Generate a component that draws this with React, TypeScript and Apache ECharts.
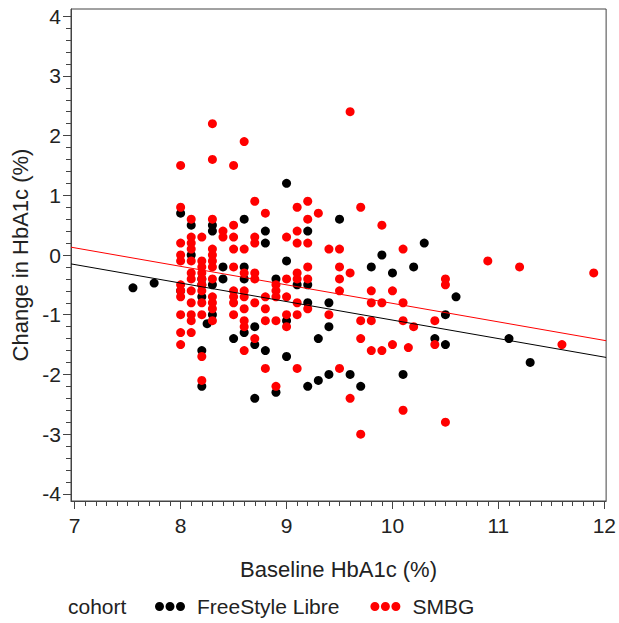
import React, { useEffect, useRef } from "react";
import * as echarts from "echarts";

// FreeStyle Libre cohort: [baseline HbA1c, change in HbA1c]
const freestyleLibre: number[][] = [
  [7.55, -0.55], [7.75, -0.47], [8.0, 0.7], [8.0, -0.6], [8.1, 0.5], [8.1, 0.0],
  [8.2, -0.4], [8.2, -0.5], [8.2, -0.7], [8.2, -1.6], [8.2, -2.2], [8.3, 0.5],
  [8.3, 0.4], [8.3, -0.5], [8.3, -1.0], [8.25, -1.15], [8.4, -0.2], [8.4, -0.4],
  [8.5, -1.4], [8.6, 0.6], [8.6, -0.2], [8.6, -0.4], [8.6, -1.3], [8.7, -1.2],
  [8.7, -1.5], [8.7, -2.4], [8.8, 0.4], [8.8, 0.2], [8.8, -1.6], [8.9, -0.4],
  [8.9, -2.3], [9.0, 1.2], [9.0, -0.1], [9.0, -1.1], [9.0, -1.7], [9.1, -0.5],
  [9.2, 0.4], [9.2, -0.5], [9.2, -0.8], [9.2, -2.2], [9.3, -1.4], [9.3, -2.1],
  [9.4, -0.8], [9.4, -1.2], [9.4, -2.0], [9.5, 0.6], [9.6, -2.0], [9.7, -2.2],
  [9.8, -0.2], [9.9, 0.0], [10.0, -0.3], [10.1, -2.0], [10.2, -0.2], [10.3, 0.2],
  [10.4, -1.4], [10.5, -1.0], [10.5, -1.5], [10.6, -0.7], [11.1, -1.4], [11.3, -1.8],
];

// SMBG cohort: [baseline HbA1c, change in HbA1c]
const smbg: number[][] = [
  [8.0, 1.5], [8.0, 0.8], [8.0, 0.2], [8.0, 0.0], [8.0, -0.1], [8.0, -0.5], [8.0, -0.6],
  [8.0, -0.7], [8.0, -1.0], [8.0, -1.3], [8.0, -1.5],
  [8.1, 0.6], [8.1, 0.3], [8.1, 0.2], [8.1, 0.1], [8.1, -0.1], [8.1, -0.3], [8.1, -0.4],
  [8.1, -0.6], [8.1, -0.8], [8.1, -1.0], [8.1, -1.1], [8.1, -1.3],
  [8.2, 0.3], [8.2, -0.1], [8.2, -0.2], [8.2, -0.3], [8.2, -0.4], [8.2, -0.5], [8.2, -0.6],
  [8.2, -0.8], [8.2, -1.0], [8.2, -1.7], [8.2, -2.1],
  [8.3, 2.2], [8.3, 1.6], [8.3, 0.6], [8.3, 0.1], [8.3, 0.0], [8.3, -0.1], [8.3, -0.2],
  [8.3, -0.4], [8.3, -0.7], [8.3, -0.8], [8.3, -0.9], [8.3, -1.1],
  [8.4, 0.4], [8.4, 0.3],
  [8.5, 1.5], [8.5, 0.5], [8.5, 0.3], [8.5, 0.1], [8.5, -0.2], [8.5, -0.6], [8.5, -0.7],
  [8.5, -0.8], [8.5, -1.0],
  [8.6, 1.9], [8.6, 0.1], [8.6, -0.3], [8.6, -0.6], [8.6, -0.7], [8.6, -0.9], [8.6, -1.1],
  [8.6, -1.2], [8.6, -1.6],
  [8.7, 0.9], [8.7, 0.3], [8.7, 0.2], [8.7, -0.3], [8.7, -0.4], [8.7, -0.8], [8.7, -1.4],
  [8.8, 0.7], [8.8, -0.7], [8.8, -0.9], [8.8, -1.1], [8.8, -1.9],
  [8.9, -0.5], [8.9, -0.6], [8.9, -0.7], [8.9, -1.1], [8.9, -2.2],
  [9.0, 0.3], [9.0, -0.4], [9.0, -0.7], [9.0, -1.0], [9.0, -1.2],
  [9.1, 0.8], [9.1, 0.4], [9.1, 0.2], [9.1, -0.3], [9.1, -0.4], [9.1, -0.8], [9.1, -1.0],
  [9.1, -1.9],
  [9.2, 0.9], [9.2, 0.6], [9.2, 0.2], [9.2, -0.2], [9.2, -0.4], [9.2, -0.9],
  [9.3, 0.7], [9.4, 0.1], [9.4, -1.0],
  [9.5, 0.1], [9.5, -0.2], [9.5, -0.4], [9.5, -0.6], [9.5, -1.9],
  [9.6, 2.4], [9.6, -0.3], [9.6, -2.4],
  [9.7, 0.8], [9.7, -1.1], [9.7, -1.4], [9.7, -3.0],
  [9.8, -0.6], [9.8, -0.8], [9.8, -1.1], [9.8, -1.6],
  [9.9, 0.5], [9.9, -0.8], [9.9, -1.6],
  [10.0, -0.6], [10.0, -1.5],
  [10.1, 0.1], [10.1, -0.8], [10.1, -1.1], [10.1, -2.6], [10.15, -1.55],
  [10.2, -1.2], [10.4, -1.1], [10.4, -1.5],
  [10.5, -0.4], [10.5, -0.5], [10.5, -2.8],
  [10.9, -0.1], [11.2, -0.2], [11.6, -1.5], [11.9, -0.3],
];

// Fitted regression values at baseline HbA1c = 7 and 12
const fitBaseline = [7, 12];
const freestyleFit = [-0.16, -1.71];
const smbgFit = [0.12, -1.43];

const xMajorTicks = [7, 8, 9, 10, 11, 12];
const yMajorTicks = [-4, -3, -2, -1, 0, 1, 2, 3, 4];

const X_MIN = 6.965;
const X_MAX = 12.017;
const Y_MIN = -4.12;
const Y_MAX = 4.12;

const FONT = "'Liberation Sans', Arial, sans-serif";
const TEXT = "#222";
const AXIS = "#444";

function minorTicks(from: number, to: number, step: number): number[] {
  const out: number[] = [];
  const n = Math.round((to - from) / step);
  for (let i = 0; i <= n; i++) out.push(Math.round((from + i * step) * 100) / 100);
  return out;
}

function fitLine(vals: number[]): number[][] {
  const slope = (vals[1] - vals[0]) / (fitBaseline[1] - fitBaseline[0]);
  return [
    [X_MIN, vals[0] + slope * (X_MIN - fitBaseline[0])],
    [X_MAX, vals[0] + slope * (X_MAX - fitBaseline[0])],
  ];
}

const dotsIcon =
  "path://M0,4.5a4.5,4.5 0 1,0 9,0a4.5,4.5 0 1,0 -9,0z" +
  "M10.5,4.5a4.5,4.5 0 1,0 9,0a4.5,4.5 0 1,0 -9,0z" +
  "M21,4.5a4.5,4.5 0 1,0 9,0a4.5,4.5 0 1,0 -9,0z";

export default function App() {
  const ref = useRef<HTMLDivElement>(null);

  useEffect(() => {
    if (!ref.current) return;
    const chart = echarts.init(ref.current, undefined, { renderer: "svg" });
    const grid = { left: 71, top: 9, right: 10, bottom: 122, show: true, borderColor: AXIS, borderWidth: 1, backgroundColor: "#fff" };

    const majorX = {
      type: "value" as const,
      min: X_MIN,
      max: X_MAX,
      position: "bottom" as const,
      name: "Baseline HbA1c (%)",
      nameLocation: "middle" as const,
      nameGap: 57,
      nameTextStyle: { fontFamily: FONT, fontSize: 22, color: TEXT },
      axisLine: { show: true, onZero: false, lineStyle: { color: AXIS, width: 1 } },
      axisTick: { show: true, length: 8, customValues: xMajorTicks, lineStyle: { color: AXIS } },
      axisLabel: {
        show: true,
        customValues: xMajorTicks,
        margin: 14,
        fontFamily: FONT,
        fontSize: 21,
        color: TEXT,
        formatter: (v: number) => String(v),
      },
      splitLine: { show: false },
    };
    const minorX = {
      type: "value" as const,
      min: X_MIN,
      max: X_MAX,
      position: "bottom" as const,
      axisLine: { show: false, onZero: false },
      axisTick: { show: true, length: 5, customValues: minorTicks(7, 12, 0.1), lineStyle: { color: AXIS } },
      axisLabel: { show: false },
      splitLine: { show: false },
    };
    const majorY = {
      type: "value" as const,
      min: Y_MIN,
      max: Y_MAX,
      position: "left" as const,
      name: "Change in HbA1c (%)",
      nameLocation: "middle" as const,
      nameRotate: 90,
      nameGap: 40,
      nameTextStyle: { fontFamily: FONT, fontSize: 22, color: TEXT },
      axisLine: { show: true, onZero: false, lineStyle: { color: AXIS, width: 1 } },
      axisTick: { show: true, length: 8, customValues: yMajorTicks, lineStyle: { color: AXIS } },
      axisLabel: {
        show: true,
        customValues: yMajorTicks,
        margin: 10,
        fontFamily: FONT,
        fontSize: 21,
        color: TEXT,
        formatter: (v: number) => String(v),
      },
      splitLine: { show: false },
    };
    const minorY = {
      type: "value" as const,
      min: Y_MIN,
      max: Y_MAX,
      position: "left" as const,
      axisLine: { show: false, onZero: false },
      axisTick: { show: true, length: 5, customValues: minorTicks(-4, 4, 0.2), lineStyle: { color: AXIS } },
      axisLabel: { show: false },
      splitLine: { show: false },
    };

    chart.setOption({
      animation: false,
      backgroundColor: "#fff",
      grid,
      xAxis: [majorX, minorX],
      yAxis: [majorY, minorY],
      legend: {
        left: 155,
        top: 596,
        padding: 0,
        itemWidth: 30,
        itemHeight: 9,
        itemGap: 31,
        icon: dotsIcon,
        textStyle: { fontFamily: FONT, fontSize: 21, color: TEXT, padding: [0, 0, 0, 7] },
        data: ["FreeStyle Libre", "SMBG"],
      },
      graphic: [
        {
          type: "text",
          left: 68,
          top: 596,
          style: { text: "cohort", fontFamily: FONT, fontSize: 21, fill: TEXT },
        },
      ],
      series: [
        {
          name: "FreeStyle Libre",
          type: "scatter",
          data: freestyleLibre,
          symbol: "circle",
          symbolSize: 9,
          itemStyle: { color: "#000", opacity: 1 },
          z: 2,
        },
        {
          name: "SMBG",
          type: "scatter",
          data: smbg,
          symbol: "circle",
          symbolSize: 9,
          itemStyle: { color: "#ff0000", opacity: 1 },
          z: 3,
        },
        {
          name: "FreeStyle Libre fit",
          type: "line",
          data: fitLine(freestyleFit),
          showSymbol: false,
          symbol: "none",
          lineStyle: { color: "#000", width: 1 },
          z: 4,
          silent: true,
        },
        {
          name: "SMBG fit",
          type: "line",
          data: fitLine(smbgFit),
          showSymbol: false,
          symbol: "none",
          lineStyle: { color: "#ff0000", width: 1 },
          z: 4,
          silent: true,
        },
      ],
    });
    return () => chart.dispose();
  }, []);

  return <div ref={ref} style={{ position: "absolute", left: 0, top: 0, width: 619, height: 623 }} />;
}
